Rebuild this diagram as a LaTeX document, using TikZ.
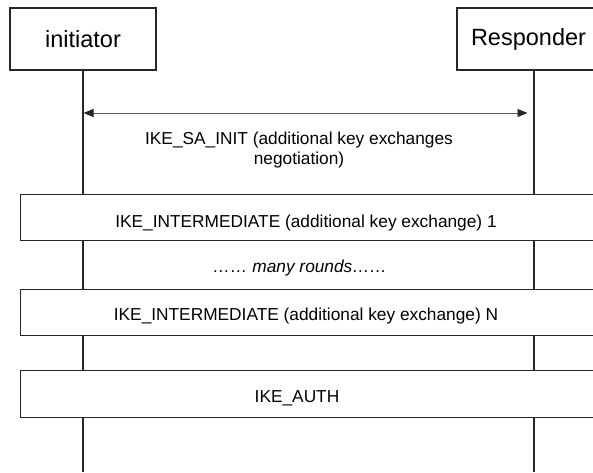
\documentclass[tikz,border=0pt]{standalone}
\usepackage{fontspec}
\setmainfont{Liberation Sans}
\usetikzlibrary{arrows.meta}
\definecolor{ink}{HTML}{262626}
\definecolor{msgline}{HTML}{5A5A5A}
\tikzset{
  actor/.style={draw=ink, line width=1.3pt, fill=white, inner sep=0pt,
    minimum height=62pt, font=\fontsize{23.5}{28}\selectfont},
  msgbox/.style={draw=ink, line width=1.3pt, fill=white, inner sep=0pt,
    minimum width=640pt, anchor=north west},
  lifeline/.style={draw=ink, line width=1.3pt},
  msg/.style={draw=msgline, line width=0.9pt,
    {Triangle[length=10pt,width=8pt,color=ink]}-{Triangle[length=10pt,width=8pt,color=ink]}},
  lbl/.style={inner sep=0pt, font=\fontsize{17.3}{20}\selectfont, align=center, text=black}
}
\begin{document}
\begin{tikzpicture}[x=1pt, y=-1pt]
  \useasboundingbox (0,0) rectangle (593,472);
  \clip (0,0) rectangle (593,472);

  % participants
  \node[actor, minimum width=146pt] (init) at (83,39) {initiator};
  \node[actor, minimum width=143pt] (resp) at (528.5,39) {Responder};

  % lifeline ends
  \coordinate (initTop) at (83,70);
  \coordinate (initEnd) at (83,472);
  \coordinate (respTop) at (534,70);
  \coordinate (respEnd) at (534,472);
  \draw[lifeline] (initTop) -- (initEnd);
  \draw[lifeline] (respTop) -- (respEnd);

  % IKE_SA_INIT exchange
  \coordinate (saL) at (83.5,113);
  \coordinate (saR) at (527.5,113);
  \draw[msg] (saL) -- (saR);
  \node[lbl] (saText) at (299,150) {IKE\_SA\_INIT (additional key exchanges\\negotiation)};

  % exchange bands
  \node[msgbox, minimum height=46pt] (inter1) at (20,194) {};
  \node[lbl] (inter1Text) at (306,223) {IKE\_INTERMEDIATE (additional key exchange) 1};

  \node[lbl] (rounds) at (300,268) {\itshape\ldots\ldots\ many rounds\ldots\ldots};

  \node[msgbox, minimum height=46pt] (interN) at (20,289) {};
  \node[lbl] (interNText) at (306,316) {IKE\_INTERMEDIATE (additional key exchange) N};

  \node[msgbox, minimum height=47pt] (auth) at (20,370) {};
  \node[lbl] (authText) at (297,398) {IKE\_AUTH};
\end{tikzpicture}
\end{document}
